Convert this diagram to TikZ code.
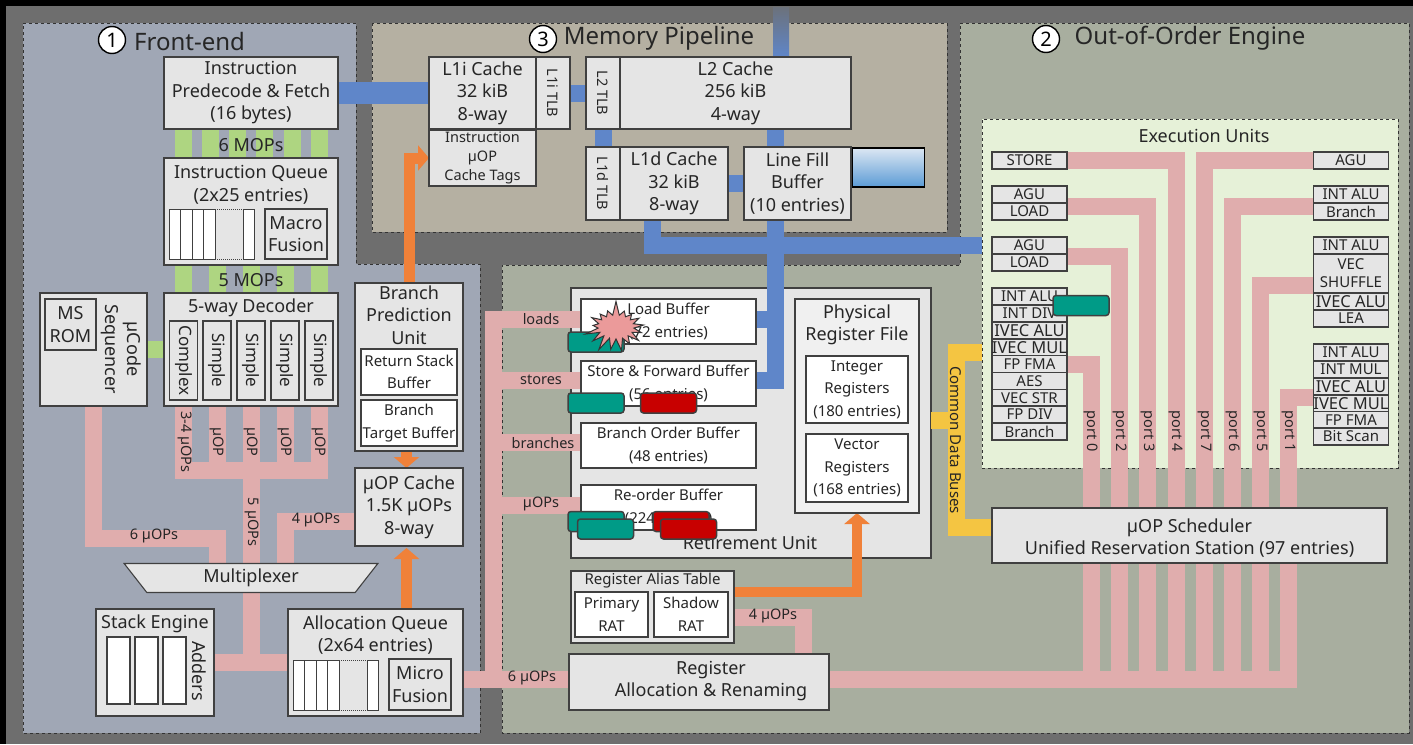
\documentclass[tikz,border=0pt]{standalone}
\usepackage{fontspec}
\setmainfont{Noto Sans}
\usetikzlibrary{arrows.meta, shapes.geometric, shapes.symbols}
\definecolor{frame}{HTML}{6E6E6E}
\definecolor{frontfill}{HTML}{A0A7B5}
\definecolor{memfill}{HTML}{B5B0A2}
\definecolor{ooofill}{HTML}{A8AE9F}
\definecolor{execfill}{HTML}{E6F1D8}
\definecolor{unitfill}{HTML}{E5E5E5}
\definecolor{unitline}{HTML}{404040}
\definecolor{uopcol}{HTML}{E0ADAD}
\definecolor{memcol}{HTML}{5F86C9}
\definecolor{mopcol}{HTML}{AED581}
\definecolor{ctlcol}{HTML}{F08139}
\definecolor{cdbcol}{HTML}{F4C542}
\definecolor{tealtok}{HTML}{009B87}
\definecolor{redtok}{HTML}{C80000}
\definecolor{burstcol}{HTML}{EB9A9A}
\definecolor{lfbtop}{HTML}{DCE7F3}
\definecolor{lfbbot}{HTML}{5B9BD5}
\pgfdeclarelayer{panel}
\pgfdeclarelayer{bus}
\pgfsetlayers{panel,bus,main}
\tikzset{
  panelbox/.style = {draw=black!80, dashed, line width=0.8pt},
  unit/.style  = {rectangle, draw=unitline, fill=unitfill, line width=1.1pt, align=center, text=black!85,
                  font=\fontsize{18}{22.5}\selectfont, inner sep=0pt, outer sep=0pt},
  whitebox/.style = {unit, fill=white},
  txt/.style   = {align=center, text=black!85, font=\fontsize{18}{22.5}\selectfont, inner sep=0pt},
  small/.style = {font=\fontsize{15}{22.5}\selectfont},
  titletxt/.style = {txt, font=\fontsize{24}{28}\selectfont},
  numring/.style  = {circle, draw=black, fill=white, line width=1.4pt, minimum size=27pt,
                     inner sep=0pt, font=\fontsize{20}{20}\selectfont},
  eu/.style    = {unit, minimum width=75, minimum height=17, font=\fontsize{15}{17}\selectfont},
  lbl/.style   = {txt, font=\fontsize{14.5}{17}\selectfont},
  vert/.style  = {rotate=-90},
  uop/.style   = {line width=17pt, draw=uopcol},
  mem/.style   = {line width=17pt, draw=memcol},
  mop/.style   = {line width=17pt, draw=mopcol},
  cdb/.style   = {line width=17pt, draw=cdbcol},
  ctl/.style   = {line width=11pt, draw=ctlcol, -{Triangle[length=11pt, width=25pt]}},
  token/.style = {rectangle, rounded corners=3pt, draw=black!75, line width=1.5pt,
                  minimum width=56, minimum height=20, inner sep=0pt},
}
\newcommand{\ivf}{\fontsize{16.5}{17}\selectfont}
\newcommand{\queuecells}[2]{%
  \begin{scope}[shift={(#1,#2)}]
    \fill[white] (0,0) rectangle (46,50);
    \fill[white] (74,0) rectangle (85,50);
    \draw[unitline, line width=1pt] (46,0) -- (0,0) -- (0,50) -- (46,50);
    \draw[unitline, line width=1pt] (74,0) -- (85,0) -- (85,50) -- (74,50);
    \foreach \cx in {11.5,23,34.5,46,74}
      \draw[unitline, line width=1pt] (\cx,0) -- (\cx,50);
    \draw[unitline, line width=1pt, densely dotted] (46,0) -- (74,0);
    \draw[unitline, line width=1pt, densely dotted] (46,50) -- (74,50);
  \end{scope}}
\begin{document}
\begin{tikzpicture}[x=1pt, y=-1pt]
  \useasboundingbox (0,0) rectangle (1413,744);
  \begin{pgfonlayer}{panel}
    \fill[black] (0,0) rectangle (1413,744);
    \fill[frame] (6,6) rectangle (1413,744);
    \draw[panelbox, fill=frontfill] (23,23) -- (356,23) -- (356,264) -- (480,264) -- (480,733) -- (23,733) -- cycle;
    \draw[panelbox, fill=memfill] (372,23) rectangle (947,232);
    \draw[panelbox, fill=ooofill] (960,23) -- (1409,23) -- (1409,733) -- (502,733) -- (502,265) -- (960,265) -- cycle;
    \node[panelbox, fill=execfill, minimum width=416, minimum height=349, inner sep=0pt, outer sep=0pt] (exec) at (1190,293.5) {};
    \node[unit, minimum width=360, minimum height=270] (ret) at (751,423) {};
  \end{pgfonlayer}

  % titles
  \node[numring] (n1) at (112,40) {1};
  \node[titletxt, anchor=west] (t1) at (134,41) {Front-end};
  \node[numring] (n3) at (543,39) {3};
  \node[titletxt] (t3) at (659,38) {Memory Pipeline};
  \node[numring] (n2) at (1046,39) {2};
  \node[titletxt] (t2) at (1190,38) {Out-of-Order Engine};
  \node[txt] (t4) at (1204,136) {Execution Units};

  % front-end
  \node[unit, minimum width=174, minimum height=72] (fetch) at (251,93) {Instruction\\Predecode \& Fetch\\(16 bytes)};
  \node[unit, minimum width=174, minimum height=107] (iq) at (251,211.5) {};
  \node[txt] (iqt) at (251,185) {Instruction Queue\\(2x25 entries)};
  \queuecells{169}{209}
  \node[unit, minimum width=62, minimum height=50] (mcf) at (296,234) {Macro\\Fusion};
  \node[unit, minimum width=174, minimum height=113] (dec) at (251,349.5) {};
  \node[txt] (dect) at (251,308) {5-way Decoder};
  \foreach \nm/\cx/\tx in {da/183.5/Complex, db/217/Simple, dc/251/Simple, dd/285/Simple, de/319/Simple} {
    \node[unit, minimum width=28, minimum height=79] (\nm) at (\cx,360.5) {};
    \node[txt, vert, font=\fontsize{17}{20}\selectfont] (\nm t) at (\cx,360.5) {\tx};
  }
  \node[unit, minimum width=107, minimum height=113] (seq) at (93.5,349.5) {};
  \node[unit, minimum width=51, minimum height=51] (rom) at (70.5,324.5) {MS\\ROM};
  \node[txt, vert] (seqt) at (121,349) {µCode\\Sequencer};
  \node[txt] (m6) at (251,145) {6 MOPs};
  \node[txt] (m5) at (251,280) {5 MOPs};
  \node[unit, trapezium, shape border rotate=180, trapezium stretches=true, trapezium left angle=60,
        trapezium right angle=60, minimum width=254, minimum height=29] (mux) at (251,578) {Multiplexer};
  \node[unit, minimum width=118, minimum height=107] (stack) at (155,662.5) {};
  \node[txt] (stackt) at (155,624) {Stack Engine};
  \foreach \cx/\nm in {118.5/sa, 146.5/sb, 174.5/sc}
    \node[whitebox, minimum width=23, minimum height=67] (\nm) at (\cx,670.5) {};
  \node[txt, vert] (addt) at (199,671) {Adders};
  \node[unit, minimum width=175, minimum height=107] (alloc) at (375.5,662.5) {};
  \node[txt] (alloct) at (375.5,635) {Allocation Queue\\(2x64 entries)};
  \queuecells{293}{660}
  \node[unit, minimum width=62, minimum height=51] (mif) at (420,684.5) {Micro\\Fusion};
  \node[unit, minimum width=108, minimum height=78] (cache) at (409,507) {µOP Cache\\1.5K µOPs\\8-way};
  \node[unit, minimum width=108, minimum height=168] (bpu) at (409,367) {};
  \node[txt] (bput) at (409,315) {Branch\\Prediction\\Unit};
  \node[whitebox, small, minimum width=96, minimum height=46] (rsb) at (409,372) {Return Stack\\Buffer};
  \node[whitebox, small, minimum width=96, minimum height=46] (btb) at (409,423) {Branch\\Target Buffer};

  % memory pipeline
  \node[unit, minimum width=107, minimum height=72] (l1i) at (482.5,93) {L1i Cache\\32 kiB\\8-way};
  \node[unit, minimum width=34, minimum height=72] (itlb) at (553,93) {};
  \node[lbl, vert] (itlbt) at (553,93) {L1i TLB};
  \node[unit, minimum width=107, minimum height=56, font=\fontsize{14.5}{19}\selectfont] (tags) at (482.5,158) {Instruction\\µOP\\Cache Tags};
  \node[unit, minimum width=34, minimum height=72] (l2tlb) at (603,93) {};
  \node[lbl, vert] (l2tlbt) at (603,93) {L2 TLB};
  \node[unit, minimum width=231, minimum height=72] (l2) at (735.5,93) {L2 Cache\\256 kiB\\4-way};
  \node[unit, minimum width=34, minimum height=73] (dtlb) at (603,183.5) {};
  \node[lbl, vert] (dtlbt) at (603,183.5) {L1d TLB};
  \node[unit, minimum width=108, minimum height=73] (l1d) at (674,183.5) {L1d Cache\\32 kiB\\8-way};
  \node[unit, minimum width=107, minimum height=73] (lfb) at (797.5,183.5) {Line Fill\\Buffer\\(10 entries)};
  \node[rectangle, draw=black, line width=1.6pt, top color=lfbtop, bottom color=lfbbot,
        minimum width=72, minimum height=39, inner sep=0pt] (lfbx) at (888.5,167.5) {};

  % out-of-order engine
  \node[txt] (rett) at (750,543) {Retirement Unit};
  \node[whitebox, small, minimum width=175, minimum height=45] (lb) at (668.5,321.5) {Load Buffer\\(72 entries)};
  \node[whitebox, small, minimum width=175, minimum height=45] (sf) at (668.5,383.5) {Store \& Forward Buffer\\(56 entries)};
  \node[whitebox, small, minimum width=175, minimum height=45] (bo) at (668.5,445.5) {Branch Order Buffer\\(48 entries)};
  \node[whitebox, small, minimum width=175, minimum height=45] (rob) at (668.5,507.5) {Re-order Buffer\\(224 entries)};
  \node[unit, fill=black!6, minimum width=124, minimum height=214] (prf) at (857,406) {};
  \node[txt] (prft) at (857,325) {Physical\\Register File};
  \node[whitebox, small, minimum width=102, minimum height=67] (ireg) at (857,389.5) {Integer\\Registers\\(180 entries)};
  \node[whitebox, small, minimum width=102, minimum height=68] (vreg) at (857,468) {Vector\\Registers\\(168 entries)};
  \node[unit, minimum width=163, minimum height=72] (rat) at (652.5,607) {};
  \node[txt, font=\fontsize{15}{18}\selectfont] (ratt) at (652.5,581) {Register Alias Table};
  \node[whitebox, small, minimum width=73, minimum height=45] (prat) at (611.5,614.5) {Primary\\RAT};
  \node[whitebox, small, minimum width=74, minimum height=45] (srat) at (691,614.5) {Shadow\\RAT};
  \node[unit, minimum width=260, minimum height=56] (ra) at (699,682) {};
  \node[txt] (rat2) at (711,681) {Register\\Allocation \& Renaming};
  \node[unit, minimum width=395, minimum height=55] (sched) at (1189.5,535.5) {};
  \node[txt] (schedt) at (1189.5,538) {µOP Scheduler\\Unified Reservation Station (97 entries)};

  % execution units
  \foreach \nm/\cy/\tx in {lsto/160.5/STORE, lagua/194.5/AGU, lloa/211.5/LOAD, lagub/245.5/AGU, lloc/262.5/LOAD,
      lia/296.5/INT ALU, lid/313.5/INT DIV, liv/330.5/{\ivf IVEC ALU}, lim/347.5/{\ivf IVEC MUL}, lfm/364/FP FMA,
      lae/381/AES, lvs/398/VEC STR, lfd/414.5/FP DIV, lbr/431.5/Branch}
    \node[eu] (\nm) at (1029.5,\cy) {\tx};
  \foreach \nm/\cy/\tx in {ragu/160.5/AGU, raa/194.5/INT ALU, rbr/211.5/Branch, rab/245.5/INT ALU,
      rva/301.5/{\ivf IVEC ALU}, rle/318.5/LEA, rac/352.5/INT ALU, rmu/369.5/INT MUL, rvb/386.5/{\ivf IVEC ALU},
      rvm/403.5/{\ivf IVEC MUL}, rfm/420/FP FMA, rbs/436.5/Bit Scan}
    \node[eu] (\nm) at (1351,\cy) {\tx};
  \node[eu, minimum height=39, font=\fontsize{15}{18}\selectfont] (rsh) at (1351,273.5) {VEC\\SHUFFLE};
  \foreach \pn/\px in {0/1091.5, 2/1119.5, 3/1147.5, 4/1176, 7/1204.5, 6/1232.5, 5/1260.5, 1/1288.5} {
    \coordinate (p\pn) at (\px,679.5);
    \node[lbl, vert] (pt\pn) at (\px,431) {port \pn};
  }
  \node[lbl, vert, font=\fontsize{15}{17}\selectfont] (cdbt) at (956,440) {Common Data Buses};

  % free ends and columns
  \coordinate (dcol) at (251.5,470.5);
  \coordinate (rcol) at (493.5,679.5);
  \coordinate (membus) at (775.5,380.5);
  \coordinate (ctlx) at (406.5,0);
  \coordinate (l2ext) at (781,7);
  \coordinate (execin) at (982,245.5);
  \coordinate (cdbin) at (982,352.5);

  \begin{pgfonlayer}{bus}
    \foreach \o in {-67.5,-40.5,-13.5,13.5,41,68}
      \draw[mop] ([xshift=\o pt]fetch.south) -- ([xshift=\o pt]iq.north);
    \foreach \o in {-67.5,-34,0.5,34.5,68}
      \draw[mop] ([xshift=\o pt]iq.south) -- ([xshift=\o pt]dec.north);
    \draw[mop] (seq.east) -- (dec.west);
    % uops
    \draw[uop] (seq.south) -- ++(0,132.5) -| ([xshift=-33.5pt]mux.north);
    \draw[uop] ([xshift=-67.5pt]dec.south) |- (dcol) -| ([xshift=68pt]dec.south);
    \foreach \o in {-34,34}
      \draw[uop] ([xshift=\o pt]dec.south) -- ([xshift=\o pt]dec.south |- dcol);
    \draw[uop] (dec.south -| dcol) -- (mux.north -| dcol);
    \draw[uop] (mux.south -| dcol) -- (dcol |- stack.east);
    \draw[uop] (stack.east) -- (alloc.west);
    \draw[uop] ([yshift=-14.5pt]cache.west) -| ([xshift=34.5pt]mux.north);
    \draw[uop] (alloc.east |- rcol) -- (ra.west |- rcol);
    \draw[uop] ([yshift=2.5pt]lb.west) -| (rcol);
    \draw[uop] ([yshift=3pt]sf.west) -| (rcol);
    \draw[uop] ([yshift=3pt]bo.west) -| (rcol);
    \draw[uop] ([yshift=2.5pt]rob.west) -| (rcol);
    \draw[uop] ([yshift=-10.5pt]rat.east) -| ([xshift=104.5pt]ra.north);
    \draw[uop] ([yshift=2.5pt]ra.east) -- ([xshift=8.5pt]p1);
    % ports
    \draw[uop] (lfm.east) -| (p0);
    \draw[uop] ([yshift=-2.5pt]lagub.south east) -| (p2);
    \draw[uop] ([yshift=-3.5pt]lagua.south east) -| (p3);
    \draw[uop] (lsto.east) -| (p4);
    \draw[uop] (ragu.west) -| (p7);
    \draw[uop] ([yshift=-3.5pt]raa.south west) -| (p6);
    \draw[uop] ([yshift=-11.5pt]rsh.west) -| (p5);
    \draw[uop] ([yshift=-2.5pt]rvb.south west) -| (p1);
    % memory
    \draw[mem, line width=22pt] (fetch.east) -- (l1i.west);
    \draw[mem] (itlb.east) -- (l2tlb.west);
    \draw[mem] (l2tlb.south) -- (dtlb.north);
    \draw[mem] (l1d.east) -- (lfb.west);
    \draw[mem] (l2.south -| membus) -- (lfb.north -| membus);
    \shade[top color=frame!85!memcol, bottom color=memcol] ([xshift=-8pt]l2ext) rectangle ([xshift=8pt]l2ext |- l2.north);
    \draw[mem] ([xshift=-22pt]l1d.south) |- (execin);
    \draw[mem] ([yshift=3pt]sf.east) -| (lfb.south -| membus);
    \draw[mem] ([yshift=2.5pt]lb.east) -- ([yshift=2.5pt]lb.east -| membus);
    % common data
    \draw[cdb] (cdbin) -| ([xshift=-36pt,yshift=8pt]sched.west) -- ([yshift=8pt]sched.west);
    \draw[cdb] ([yshift=3pt]ret.east) -- ++(25,0);
    % control
    \draw[ctl] (bpu.north) |- (tags.west);
    \draw[ctl] (ctlx |- alloc.north) -- ([yshift=-2pt]ctlx |- cache.south);
    \draw[ctl] (ctlx |- bpu.south) -- (ctlx |- cache.north);
    \draw[ctl, line width=10pt] ([yshift=15pt]rat.east) -| (prf.south);
  \end{pgfonlayer}

  % bus labels
  \node[lbl, vert] (u34) at (185,442) {3-4 µOPs};
  \foreach \cx/\nm in {217/ua, 251.5/ub, 285.5/uc, 319.5/ud}
    \node[lbl, vert] (\nm) at (\cx,442) {µOP};
  \node[lbl, vert] (u5) at (252,522) {5 µOPs};
  \node[lbl] (u6) at (154,536) {6 µOPs};
  \node[lbl] (u4) at (316,520) {4 µOPs};
  \node[lbl] (uloads) at (541,319) {loads};
  \node[lbl] (ustores) at (541,380) {stores};
  \node[lbl] (ubr) at (543,443) {branches};
  \node[lbl] (uops) at (541,504) {µOPs};
  \node[lbl] (u6b) at (532,678) {6 µOPs};
  \node[lbl] (u4b) at (773,616) {4 µOPs};

  % tokens
  \node[token, fill=tealtok] (ta) at (596,342) {};
  \node[starburst, starburst points=17, starburst point height=15pt, random starburst=7,
        draw=black!80, line width=1pt, fill=burstcol, minimum width=66pt, minimum height=54pt, inner sep=0pt] (burst) at (616,327) {};
  \node[token, fill=tealtok] (tb) at (596,403) {};
  \node[token, fill=redtok] (ra1) at (668.5,403) {};
  \node[token, fill=tealtok] (tc) at (596,521.5) {};
  \node[token, fill=tealtok] (td) at (605.5,529) {};
  \node[token, fill=redtok] (ra2) at (681,521.5) {};
  \node[token, fill=redtok] (ra3) at (688.5,529) {};
  \node[token, fill=tealtok] (te) at (1081,305.5) {};
\end{tikzpicture}
\end{document}
